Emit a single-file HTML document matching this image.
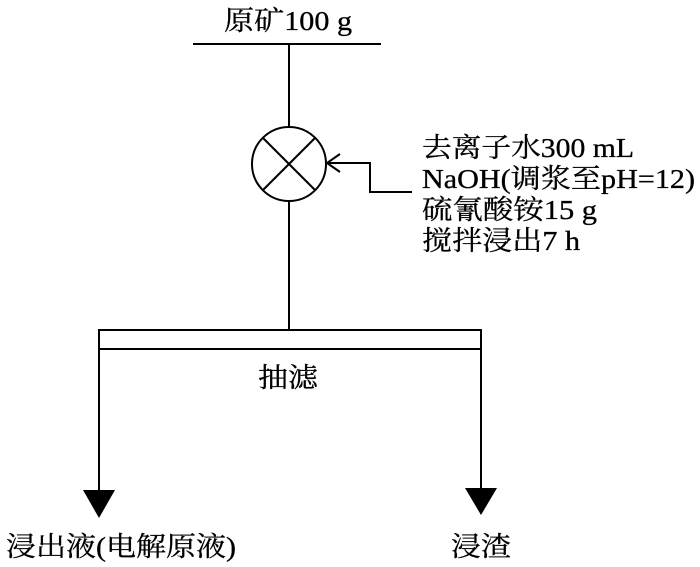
<!DOCTYPE html>
<html><head><meta charset="utf-8"><style>
html,body{margin:0;padding:0;background:#fff;}
svg text{font-family:"Liberation Serif","Noto Serif CJK SC",serif;font-size:27px;fill:#000;stroke:#000;stroke-width:0.3px;}
</style></head><body>
<svg width="700" height="562" viewBox="0 0 700 562" xmlns="http://www.w3.org/2000/svg">
<g stroke="#000" stroke-width="2" fill="none">
<line x1="193" y1="44" x2="381" y2="44"/>
<line x1="289" y1="44" x2="289" y2="127"/>
<circle cx="289" cy="164" r="37"/>
<line x1="263" y1="138" x2="315" y2="190"/>
<line x1="315" y1="138" x2="263" y2="190"/>
<line x1="289" y1="201" x2="289" y2="330"/>
<rect x="99" y="330" width="382" height="19"/>
<line x1="99" y1="349" x2="99" y2="492"/>
<line x1="481" y1="349" x2="481" y2="490"/>
<polyline points="412,192 370,192 370,163 327,163"/>
<polyline points="340,154 327,163 340,172"/>
</g>
<polygon points="83,490 115,490 99,518" fill="#000"/>
<polygon points="465,488 497,488 481,515" fill="#000"/>
<text x="224" y="30" textLength="128" lengthAdjust="spacingAndGlyphs">原矿100 g</text>
<text x="422" y="157" textLength="212" lengthAdjust="spacingAndGlyphs">去离子水300 mL</text>
<text x="422" y="188" textLength="273" lengthAdjust="spacingAndGlyphs">NaOH(调浆至pH=12)</text>
<text x="422" y="219" textLength="175" lengthAdjust="spacingAndGlyphs">硫氰酸铵15 g</text>
<text x="422" y="250" textLength="158" lengthAdjust="spacingAndGlyphs">搅拌浸出7 h</text>
<text x="258" y="387" textLength="60" lengthAdjust="spacingAndGlyphs">抽滤</text>
<text x="6" y="556" textLength="230" lengthAdjust="spacingAndGlyphs">浸出液(电解原液)</text>
<text x="451" y="556" textLength="60" lengthAdjust="spacingAndGlyphs">浸渣</text>
</svg>
</body></html>
